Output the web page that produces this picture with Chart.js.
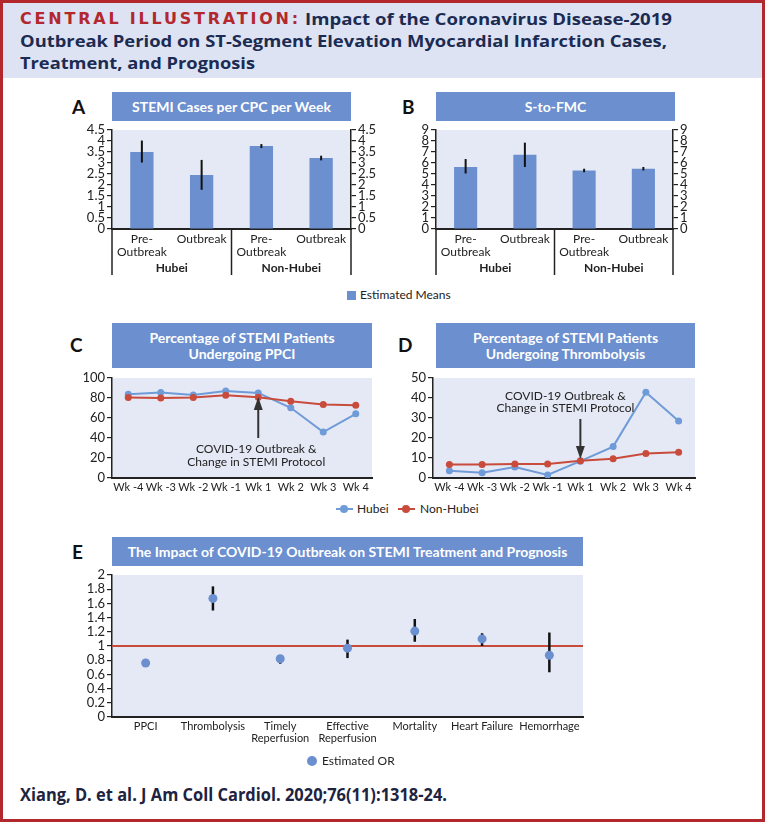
<!DOCTYPE html>
<html>
<head>
<meta charset="utf-8">
<script src="https://cdn.jsdelivr.net/npm/chart.js@4.4.1/dist/chart.umd.min.js"></script>
<style>
body { margin: 0; width: 765px; height: 822px; overflow: hidden; background: #fff; font-family: Lato, sans-serif; position: relative; }
#frame { position: absolute; left: 0; top: 0; width: 759px; height: 816px; border: 3px solid #b3282d; }
#head { position: absolute; left: 3px; top: 3px; width: 759px; height: 75px; background: #dde3f3; }
.hl { position: absolute; font: bold 16px/20px 'Open Sans', sans-serif; color: #1b2b52; white-space: nowrap; transform-origin: 0 0; }
.hl.red { color: #b3282d; font-family: 'DejaVu Sans', sans-serif; }
#foot { position: absolute; left: 20px; top: 785px; font: bold 17px/20px 'Open Sans', sans-serif; color: #1d2340; white-space: nowrap; transform-origin: 0 0; }
.box { position: absolute; background: #6b8fcf; color: #fff; font: bold 14px/16px Lato, sans-serif; text-align: center; display: flex; align-items: center; justify-content: center; }
.let { position: absolute; font: bold 19px/20px Lato, sans-serif; color: #111; }
canvas { position: absolute; }
.leg { position: absolute; font: 12px/14px Lato, sans-serif; color: #222; white-space: nowrap; }
.sq { position: absolute; width: 9px; height: 9px; background: #6b8fcf; }
.ln { position: absolute; height: 2px; }
.dot { position: absolute; border-radius: 50%; }
</style>
</head>
<body>
<div id="frame"></div>
<div id="head"></div>
<div class="hl red" id="h1a" style="left:20px;top:9px">CENTRAL ILLUSTRATION:</div>
<div class="hl" id="h1b" style="left:305px;top:9px">Impact of the Coronavirus Disease-2019</div>
<div class="hl" id="h2" style="left:20px;top:31px">Outbreak Period on ST-Segment Elevation Myocardial Infarction Cases,</div>
<div class="hl" id="h3" style="left:20px;top:53px">Treatment, and Prognosis</div>

<div class="let" style="left:72px;top:97px">A</div>
<div class="box" style="left:112px;top:92px;width:239px;height:29px">STEMI Cases per CPC per Week</div>
<canvas id="chartA" width="320" height="165" style="left:60px;top:120px"></canvas>

<div class="let" style="left:402px;top:97px">B</div>
<div class="box" style="left:436px;top:92px;width:239px;height:29px">S-to-FMC</div>
<canvas id="chartB" width="318" height="165" style="left:384px;top:120px"></canvas>

<div class="sq" style="left:347px;top:291px"></div>
<div class="leg" style="left:360px;top:288px">Estimated Means</div>

<div class="let" style="left:70px;top:335px">C</div>
<div class="box" style="left:112px;top:323px;width:260px;height:45px">Percentage of STEMI Patients<br>Undergoing PPCI</div>
<canvas id="chartC" width="320" height="132" style="left:60px;top:368px"></canvas>

<div class="let" style="left:398px;top:335px">D</div>
<div class="box" style="left:436px;top:323px;width:259px;height:45px">Percentage of STEMI Patients<br>Undergoing Thrombolysis</div>
<canvas id="chartD" width="330" height="132" style="left:380px;top:368px"></canvas>

<div class="ln" style="left:336px;top:508px;width:17px;background:#6f9bd8"></div>
<div class="dot" style="left:340px;top:505px;width:8px;height:8px;background:#6f9bd8"></div>
<div class="leg" style="left:357px;top:502px">Hubei</div>
<div class="ln" style="left:398px;top:508px;width:17px;background:#c84b3c"></div>
<div class="dot" style="left:402px;top:505px;width:8px;height:8px;background:#c84b3c"></div>
<div class="leg" style="left:420px;top:502px">Non-Hubei</div>

<div class="let" style="left:72px;top:542px">E</div>
<div class="box" style="left:112px;top:537px;width:471px;height:29px">The Impact of COVID-19 Outbreak on STEMI Treatment and Prognosis</div>
<canvas id="chartE" width="540" height="190" style="left:60px;top:566px"></canvas>

<div class="dot" style="left:307px;top:756px;width:10px;height:10px;background:#6b8fcf"></div>
<div class="leg" style="left:322px;top:754px">Estimated OR</div>

<div id="foot">Xiang, D. et al. J Am Coll Cardiol. 2020;76(11):1318-24.</div>

<script>
// panel A / B: estimated means with 95% CI
const barCats = [["Pre-", "Outbreak"], "Outbreak", ["Pre-", "Outbreak"], "Outbreak"];
const barGroups = ["Hubei", "Non-Hubei"];
const casesMean = [3.5, 2.45, 3.77, 3.23];
const casesLow = [3.02, 1.78, 3.68, 3.12];
const casesHigh = [4.02, 3.14, 3.86, 3.33];
const fmcMean = [5.64, 6.75, 5.32, 5.47];
const fmcLow = [5.05, 5.64, 5.16, 5.32];
const fmcHigh = [6.36, 7.85, 5.48, 5.64];

// panel C / D: weekly percentages
const weeks = ["Wk -4", "Wk -3", "Wk -2", "Wk -1", "Wk 1", "Wk 2", "Wk 3", "Wk 4"];
const ppciHubei = [83.8, 85.4, 83.1, 87.1, 85.1, 70.2, 46.0, 64.2];
const ppciNonHubei = [80.5, 80.1, 80.5, 82.8, 80.8, 76.8, 73.5, 72.8];
const thrombHubei = [3.6, 2.6, 5.5, 1.5, 8.4, 15.7, 42.9, 28.5];
const thrombNonHubei = [6.8, 6.8, 7.0, 7.0, 8.6, 9.6, 12.3, 12.9];
const noteLines = ["COVID-19 Outbreak &", "Change in STEMI Protocol"];

// panel E: odds ratios
const orCats = ["PPCI", "Thrombolysis", ["Timely", "Reperfusion"], ["Effective", "Reperfusion"], "Mortality", "Heart Failure", "Hemorrhage"];
const orEst = [0.76, 1.67, 0.82, 0.97, 1.21, 1.10, 0.87];
const orLow = [0.71, 1.50, 0.75, 0.83, 1.06, 1.00, 0.63];
const orHigh = [0.80, 1.84, 0.86, 1.09, 1.38, 1.18, 1.19];

const BLUE = "#6b8fcf";
const LBLUE = "#6f9bd8";
const RED = "#c84b3c";
const INK = "#222";

// squeeze / stretch the banner lines to the widths they have in the figure
function fitX(id, w) {
    const el = document.getElementById(id);
    el.style.transform = "scaleX(" + (w / el.getBoundingClientRect().width) + ")";
}
function spread(id, w) {
    const el = document.getElementById(id);
    const n = el.textContent.length;
    el.style.letterSpacing = ((w - el.getBoundingClientRect().width) / n) + "px";
}
spread("h1a", 281);
fitX("h1b", 367);
fitX("h2", 647);
fitX("h3", 235);
fitX("foot", 427);

Chart.defaults.font.family = "Lato, sans-serif";
Chart.defaults.font.size = 12;
Chart.defaults.color = INK;

const plotBg = {
    id: "plotBg",
    beforeDraw(chart) {
        const { ctx, chartArea: a } = chart;
        ctx.save();
        ctx.fillStyle = "#e5e9f5";
        ctx.fillRect(a.left, a.top, a.right - a.left, a.bottom - a.top);
        ctx.restore();
    }
};

function drawErr(chart, opts) {
    if (!opts || !opts.low) return;
    const ctx = chart.ctx;
    const y = chart.scales.y;
    const meta = chart.getDatasetMeta(0);
    ctx.save();
    ctx.strokeStyle = "#111";
    ctx.lineWidth = opts.width || 2;
    meta.data.forEach((el, i) => {
        ctx.beginPath();
        ctx.moveTo(el.x, y.getPixelForValue(opts.low[i]));
        ctx.lineTo(el.x, y.getPixelForValue(opts.high[i]));
        ctx.stroke();
    });
    ctx.restore();
}

const errBars = {
    id: "errBars",
    beforeDatasetsDraw(chart, args, opts) { if (opts.under) drawErr(chart, opts); },
    afterDatasetsDraw(chart, args, opts) { if (!opts.under) drawErr(chart, opts); }
};

// group brackets under the bar charts
const groups = {
    id: "groups",
    afterDraw(chart) {
        const { ctx, chartArea: a } = chart;
        const x = chart.scales.x;
        const mid = (x.getPixelForValue(1) + x.getPixelForValue(2)) / 2;
        ctx.save();
        ctx.strokeStyle = INK;
        ctx.lineWidth = 1.5;
        [a.left, mid, a.right].forEach(px => {
            ctx.beginPath();
            ctx.moveTo(px, a.bottom);
            ctx.lineTo(px, a.bottom + 46);
            ctx.stroke();
        });
        ctx.fillStyle = INK;
        ctx.font = "bold 12px Lato, sans-serif";
        ctx.textAlign = "center";
        ctx.textBaseline = "middle";
        ctx.fillText(barGroups[0], (a.left + mid) / 2, a.bottom + 39);
        ctx.fillText(barGroups[1], (mid + a.right) / 2, a.bottom + 39);
        ctx.restore();
    }
};

const refLine = {
    id: "refLine",
    beforeDatasetsDraw(chart, args, opts) {
        if (opts.value === undefined) return;
        const { ctx, chartArea: a } = chart;
        const py = chart.scales.y.getPixelForValue(opts.value);
        ctx.save();
        ctx.strokeStyle = RED;
        ctx.lineWidth = 2;
        ctx.beginPath();
        ctx.moveTo(a.left, py);
        ctx.lineTo(a.right, py);
        ctx.stroke();
        ctx.restore();
    }
};

const note = {
    id: "note",
    afterDatasetsDraw(chart, args, opts) {
        if (opts.index === undefined) return;
        const { ctx } = chart;
        const y = chart.scales.y;
        const px = chart.scales.x.getPixelForValue(opts.index);
        const tail = y.getPixelForValue(opts.from);
        const tip = y.getPixelForValue(opts.to);
        const dir = tip < tail ? 1 : -1;
        ctx.save();
        ctx.strokeStyle = "#333";
        ctx.fillStyle = "#333";
        ctx.lineWidth = 2;
        ctx.beginPath();
        ctx.moveTo(px, tail);
        ctx.lineTo(px, tip + dir * 10);
        ctx.stroke();
        ctx.beginPath();
        ctx.moveTo(px, tip);
        ctx.lineTo(px - 4.5, tip + dir * 13);
        ctx.lineTo(px + 4.5, tip + dir * 13);
        ctx.closePath();
        ctx.fill();
        ctx.fillStyle = INK;
        ctx.font = "12px Lato, sans-serif";
        ctx.textAlign = "center";
        ctx.textBaseline = "middle";
        opts.lines.forEach((t, i) => ctx.fillText(t, px + opts.dx, y.getPixelForValue(opts.at[i])));
        ctx.restore();
    }
};

function fmt(v) { return String(Math.round(v * 10) / 10); }

function yAxis(min, max, step, width, pos) {
    return {
        position: pos || "left",
        min: min, max: max,
        ticks: { stepSize: step, autoSkip: false, padding: 2, color: INK, callback: fmt, font: { size: 13, lineHeight: 1 } },
        grid: { drawOnChartArea: false, drawTicks: true, tickLength: 5, color: INK, lineWidth: 1.2 },
        border: { color: INK, width: 1.5 },
        afterFit(s) { s.width = width; }
    };
}

function xAxis(height, size) {
    return {
        offset: true,
        ticks: { autoSkip: false, maxRotation: 0, padding: 4, color: INK, font: { size: size, lineHeight: 1.05 } },
        grid: { display: false, drawTicks: false },
        border: { color: INK, width: 2 },
        afterFit(s) { s.height = height; }
    };
}

const base = {
    responsive: false,
    animation: false,
    events: []
};

function barChart(id, means, low, high, max, step) {
    return new Chart(document.getElementById(id), {
        type: "bar",
        data: {
            labels: barCats,
            datasets: [{ label: "Estimated Means", data: means, backgroundColor: BLUE, categoryPercentage: 1, barPercentage: 0.39 }]
        },
        options: Object.assign({}, base, {
            layout: { padding: { top: 10 } },
            scales: {
                x: xAxis(56, 12),
                y: yAxis(0, max, step, 52),
                y2: yAxis(0, max, step, 29, "right")
            },
            plugins: {
                legend: { display: false },
                tooltip: { enabled: false },
                errBars: { low: low, high: high, width: 2 }
            }
        }),
        plugins: [plotBg, errBars, groups]
    });
}

barChart("chartA", casesMean, casesLow, casesHigh, 4.5, 0.5);
barChart("chartB", fmcMean, fmcLow, fmcHigh, 9, 1);

function lineChart(id, hubei, nonHubei, max, step, rightPad, yWidth, noteOpts) {
    const ds = (label, data, color) => ({
        label: label, data: data, borderColor: color, backgroundColor: color,
        pointBackgroundColor: color, pointBorderWidth: 0, pointRadius: 3.5, borderWidth: 2, tension: 0
    });
    return new Chart(document.getElementById(id), {
        type: "line",
        data: {
            labels: weeks,
            datasets: [ds("Non-Hubei", nonHubei, RED), ds("Hubei", hubei, LBLUE)]
        },
        options: Object.assign({}, base, {
            layout: { padding: { top: 10, right: rightPad } },
            scales: {
                x: xAxis(22, 11),
                y: yAxis(0, max, step, yWidth)
            },
            plugins: {
                legend: { display: false },
                tooltip: { enabled: false },
                note: noteOpts
            }
        }),
        plugins: [plotBg, note]
    });
}

lineChart("chartC", ppciHubei, ppciNonHubei, 100, 20, 8, 52,
    { index: 4, from: 40, to: 81, lines: noteLines, at: [29, 16], dx: -2 });
lineChart("chartD", thrombHubei, thrombNonHubei, 50, 10, 15, 53,
    { index: 4, from: 29.5, to: 9.5, lines: noteLines, at: [41, 35], dx: -15 });

new Chart(document.getElementById("chartE"), {
    type: "line",
    data: {
        labels: orCats,
        datasets: [{ label: "Estimated OR", data: orEst, showLine: false, pointRadius: 4.5, pointBorderWidth: 0, pointBackgroundColor: BLUE, backgroundColor: BLUE }]
    },
    options: Object.assign({}, base, {
        layout: { padding: { top: 9, right: 17 } },
        scales: {
            x: xAxis(39, 11),
            y: yAxis(0, 2, 0.2, 52)
        },
        plugins: {
            legend: { display: false },
            tooltip: { enabled: false },
            errBars: { low: orLow, high: orHigh, width: 2.5, under: true },
            refLine: { value: 1 }
        }
    }),
    plugins: [plotBg, refLine, errBars]
});
</script>
</body>
</html>
